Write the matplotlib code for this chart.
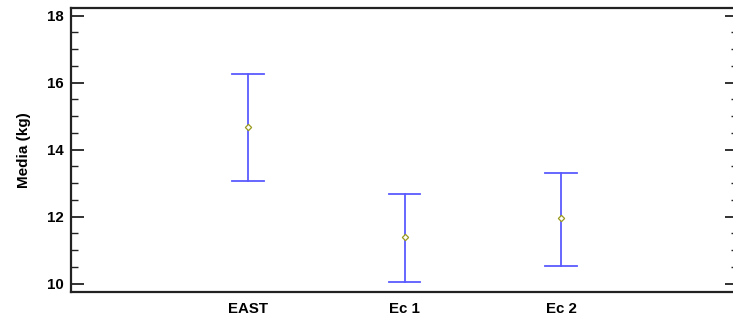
import matplotlib
matplotlib.use("Agg")
import matplotlib.pyplot as plt
from matplotlib.ticker import MultipleLocator

categories = ["EAST", "Ec 1", "Ec 2"]
means = [14.67, 11.39, 11.95]
lower = [13.07, 10.05, 10.54]
upper = [16.27, 12.69, 13.30]

plt.rcParams['font.family'] = ['Liberation Sans', 'DejaVu Sans']

fig = plt.figure(figsize=(7.33, 3.2), dpi=100)
ax = fig.add_axes([71/733, 1-292/320, (738-71)/733, (292-8)/320])

pos = [1, 2, 3]
cap = 0.1
for x, m, lo, hi in zip(pos, means, lower, upper):
    ax.plot([x, x], [lo, hi], color='#5a5aff', lw=1.3, zorder=2)
    ax.plot([x - cap, x + cap], [hi, hi], color='#5a5aff', lw=1.3, zorder=2)
    ax.plot([x - cap, x + cap], [lo, lo], color='#5a5aff', lw=1.3, zorder=2)
ax.plot(pos, means, linestyle='none', marker='D', markersize=3.2,
        markerfacecolor='white', markeredgecolor='#9a9a20', markeredgewidth=0.9, zorder=3)

ax.set_xlim(-0.13, 4.13)
ax.set_ylim(9.75, 18.23)
ax.set_xticks(pos)
ax.set_xticklabels(categories, fontweight='bold', fontsize=10.8)
ax.tick_params(axis='x', length=0, pad=7)
ax.yaxis.set_major_locator(MultipleLocator(2))
ax.yaxis.set_minor_locator(MultipleLocator(0.5))
ax.tick_params(axis='y', which='major', direction='in', length=9.5, width=1.3,
               left=True, right=True, color='#222222', labelsize=10.8, pad=5.5)
ax.tick_params(axis='y', which='minor', direction='in', length=5, width=1.0,
               left=True, right=True, color='#222222')
for lab in ax.get_yticklabels():
    lab.set_fontweight('bold')
ax.set_ylabel("Media (kg)", fontweight='bold', fontsize=11, labelpad=11)
for s in ['left', 'top', 'bottom']:
    ax.spines[s].set_linewidth(1.6)
    ax.spines[s].set_color('#222222')
ax.spines['right'].set_visible(False)

fig.savefig("out.png", dpi=100)
